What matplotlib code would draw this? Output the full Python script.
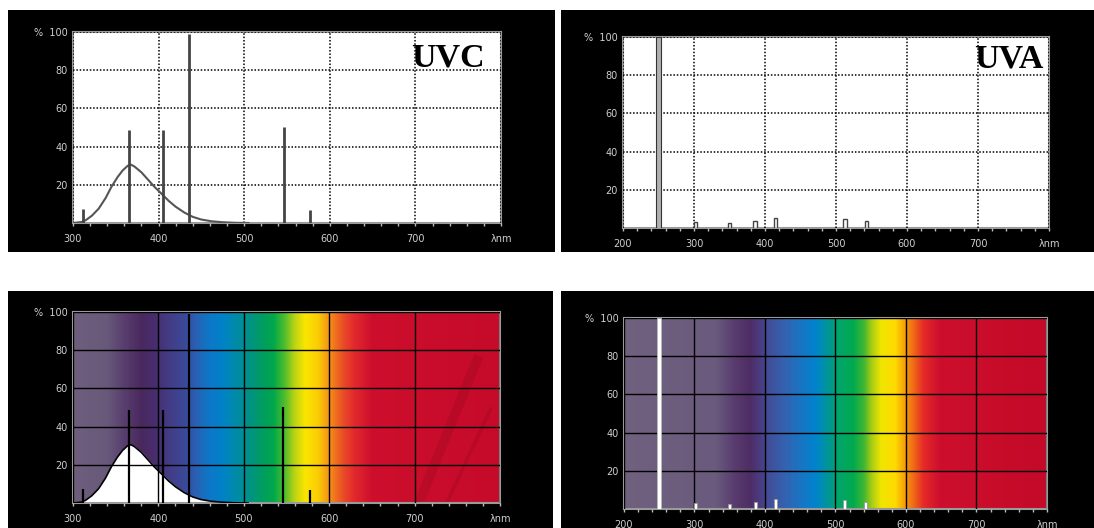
import numpy as np
import matplotlib
matplotlib.use("Agg")
import matplotlib.pyplot as plt
from matplotlib.patches import Rectangle

# ---------------- data ----------------
# Left lamp (panels "UVC"): broadband phosphor hump, nm / %
hump_nm = [300, 310, 315, 322, 330, 338, 345, 352, 358, 364, 368, 372, 380, 388,
           395, 403, 412, 420, 430, 440, 450, 462, 475, 490, 505]
hump_pct = [0, 0.5, 1.5, 3.8, 7.5, 13, 19, 24, 27.5, 30, 30.5, 29.5, 26.5, 22.5,
            19, 15.5, 11.5, 8.5, 5.5, 3.2, 1.8, 0.9, 0.4, 0.1, 0]
left_lines_nm = [312, 365, 405, 436, 546, 577]
left_lines_pct = [7.5, 48.5, 48.5, 99, 50.5, 7]

# Right lamp (panels "UVA"): line spectrum, nm / %
right_lines_nm = [250, 302, 350, 386, 415, 513, 543]
right_lines_pct = [100, 3, 2.5, 3.5, 5, 4.5, 3.5]

# axes
left_xticks = [300, 400, 500, 600, 700, 800]
left_xlabels = ["300", "400", "500", "600", "700", "λnm"]
right_xticks = [200, 300, 400, 500, 600, 700, 800]
right_xlabels = ["200", "300", "400", "500", "600", "700", "λnm"]
yticks = [20, 40, 60, 80, 100]
ylabels = ["20", "40", "60", "80", "%  100"]

# visible-spectrum background colour stops (nm, R, G, B)
left_spec_nm = [300, 340, 360, 380, 395, 410, 430, 445, 460, 475, 490, 505, 520,
                535, 548, 560, 572, 587, 597, 607, 617, 630, 650, 800]
left_spec_rgb = [(110, 95, 125), (104, 88, 122), (88, 62, 110), (74, 40, 95),
                 (72, 45, 108), (68, 58, 130), (60, 72, 152), (40, 98, 182),
                 (12, 120, 200), (0, 130, 200), (0, 138, 170), (0, 146, 138),
                 (0, 155, 100), (0, 168, 75), (80, 190, 45), (190, 212, 20),
                 (250, 230, 0), (250, 205, 5), (246, 160, 18), (240, 115, 30),
                 (234, 75, 40), (226, 40, 45), (205, 15, 45), (198, 10, 42)]
right_spec_nm = [200, 330, 355, 378, 392, 405, 430, 455, 472, 490, 505, 525, 540,
                 552, 565, 585, 598, 610, 625, 648, 800]
right_spec_rgb = [(112, 97, 127), (106, 90, 125), (90, 62, 112), (78, 45, 100),
                  (76, 58, 125), (66, 78, 152), (50, 100, 178), (20, 120, 198),
                  (0, 132, 205), (0, 150, 150), (0, 165, 105), (0, 170, 80),
                  (60, 182, 50), (170, 205, 20), (240, 230, 0), (255, 218, 0),
                  (245, 160, 10), (240, 110, 20), (230, 42, 40), (205, 15, 45),
                  (195, 10, 40)]

# ---------------- figure ----------------
W, H = 1094, 528
fig = plt.figure(figsize=(W / 100, H / 100), dpi=100)
fig.patch.set_facecolor("white")


def frac(x0, y0, x1, y1):
    return [x0 / W, 1 - y1 / H, (x1 - x0) / W, (y1 - y0) / H]


for (x0, y0, x1, y1) in [(8, 10, 555, 252), (561, 10, 1094, 252),
                         (8, 291, 553, 528), (561, 291, 1094, 528)]:
    r = frac(x0, y0, x1, y1)
    fig.add_artist(Rectangle((r[0], r[1]), r[2], r[3], transform=fig.transFigure,
                             facecolor="black", edgecolor="none", zorder=0))

LABEL_COLOR = "#cfcfcf"


def style(ax, xmin, xmax, xt, xl, dotted):
    ax.set_xlim(xmin, xmax)
    ax.set_ylim(0, 100)
    ax.set_xticks(xt)
    ax.set_xticklabels(xl)
    ax.set_xticks(np.arange(xmin, xmax + 1, 20), minor=True)
    ax.set_yticks(yticks)
    ax.set_yticklabels(ylabels)
    ax.tick_params(axis="x", which="both", length=2, width=1, color="#bbbbbb",
                   direction="out", pad=6, labelsize=7, labelcolor=LABEL_COLOR)
    ax.tick_params(axis="y", length=0, pad=4, labelsize=7, labelcolor=LABEL_COLOR)
    for s in ax.spines.values():
        s.set_color("#9a9a9a")
        s.set_linewidth(1.5)
    if dotted:
        ax.grid(True, which="major", color="black", linestyle=(0, (1, 1.2)),
                linewidth=1.1)
    else:
        ax.grid(True, which="major", color=(0, 0, 0, 0.26), linestyle="-",
                linewidth=1.0)
    ax.set_axisbelow(False)
    for gl in ax.get_xgridlines() + ax.get_ygridlines():
        gl.set_zorder(1.5)


def spectrum(ax, xmin, xmax, snm, srgb):
    grid = np.linspace(xmin, xmax, 800)
    rgb = np.array(srgb, dtype=float) / 255.0
    img = np.stack([np.interp(grid, snm, rgb[:, i]) for i in range(3)], axis=-1)
    ax.imshow(img[np.newaxis, :, :], extent=(xmin, xmax, 0, 100), aspect="auto",
              interpolation="bilinear", zorder=0)


# ---- top-left (UVC) ----
ax1 = fig.add_axes(frac(73, 32, 501, 223))
ax1.set_facecolor("white")
style(ax1, 300, 800, left_xticks, left_xlabels, True)
ax1.plot(hump_nm, hump_pct, color="#555555", lw=1.5, zorder=3)
ax1.vlines(left_lines_nm, 0, left_lines_pct, color="#444444", lw=2.0, zorder=4)
ax1.text(0.963, 0.945, "UVC", transform=ax1.transAxes, ha="right", va="top",
         family="Liberation Serif", weight="bold", fontsize=24.5, color="black",
         zorder=6)

# ---- top-right (UVA) ----
ax2 = fig.add_axes(frac(623, 37, 1049, 228))
ax2.set_facecolor("white")
style(ax2, 200, 800, right_xticks, right_xlabels, True)
ax2.bar(right_lines_nm[:1], right_lines_pct[:1], width=6, color="#b0b0b0",
        edgecolor="#333333", lw=0.8, zorder=4)
ax2.bar(right_lines_nm[1:], right_lines_pct[1:], width=5, color="white",
        edgecolor="#444444", lw=1.0, zorder=4)
ax2.text(0.986, 0.965, "UVA", transform=ax2.transAxes, ha="right", va="top",
         family="Liberation Serif", weight="bold", fontsize=24.5, color="black",
         zorder=6)

# ---- bottom-left (spectrum) ----
ax3 = fig.add_axes(frac(73, 312, 500, 503))
style(ax3, 300, 800, left_xticks, left_xlabels, False)
spectrum(ax3, 300, 800, left_spec_nm, left_spec_rgb)
ax3.fill_between(hump_nm, hump_pct, 0, color="white", zorder=2)
ax3.plot(hump_nm, hump_pct, color="black", lw=1.2, zorder=3)
ax3.vlines(left_lines_nm, 0, left_lines_pct, color="black", lw=1.6, zorder=4)
ax3.set_xlim(300, 800)
ax3.set_ylim(0, 100)

# ---- bottom-right (spectrum) ----
ax4 = fig.add_axes(frac(624, 318, 1047, 509))
style(ax4, 200, 800, right_xticks, right_xlabels, False)
spectrum(ax4, 200, 800, right_spec_nm, right_spec_rgb)
ax4.bar(right_lines_nm[:1], right_lines_pct[:1], width=5, color="white",
        edgecolor="#bbbbbb", lw=0.6, zorder=4)
ax4.bar(right_lines_nm[1:], right_lines_pct[1:], width=4.5, color="white",
        edgecolor="#999999", lw=0.6, zorder=4)
ax4.set_xlim(200, 800)
ax4.set_ylim(0, 100)

# faint watermark strokes
ax3.plot([0.81, 0.95], [0.0, 0.77], transform=ax3.transAxes, color="black",
         alpha=0.08, lw=7, solid_capstyle="butt", zorder=1)
ax3.plot([0.875, 0.98], [0.0, 0.50], transform=ax3.transAxes, color="black",
         alpha=0.08, lw=2.5, solid_capstyle="butt", zorder=1)

fig.savefig("out.png", dpi=100, facecolor="white")
